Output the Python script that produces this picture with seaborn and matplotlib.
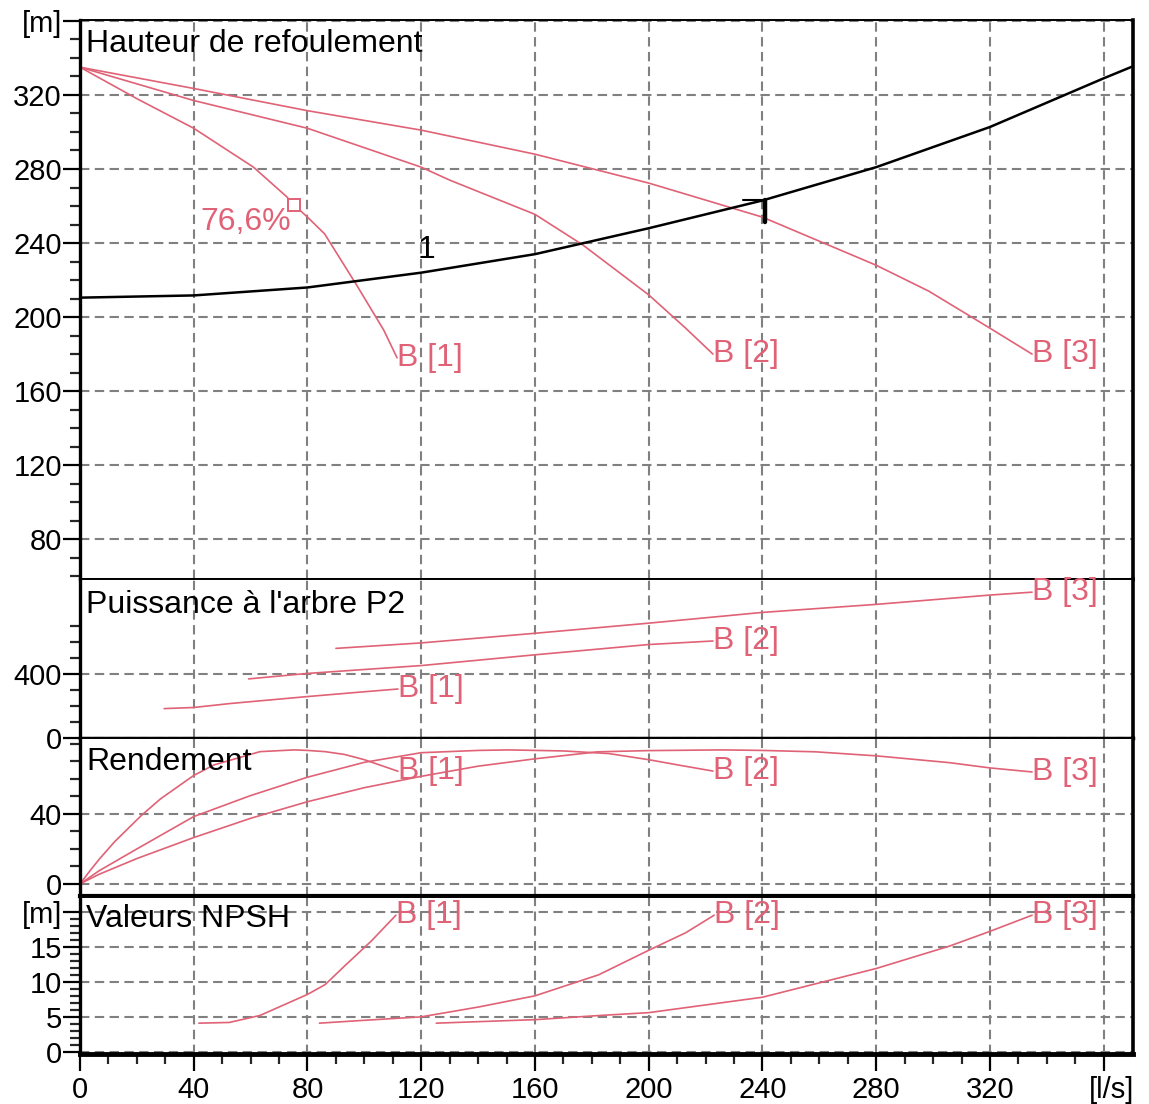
import matplotlib
matplotlib.use("Agg")
import matplotlib.pyplot as plt
import matplotlib.transforms as mtrans
from matplotlib.ticker import FixedLocator, FixedFormatter
import pandas as pd
import seaborn as sns

# ---- data (Q in l/s) ----
pumps = ["B [1]", "B [2]", "B [3]"]

# Hauteur de refoulement [m]
q_head_1 = [0, 20, 40, 61, 72.7, 75.3, 80, 86, 97.4, 106.8, 111.5]
head_1 = [335, 318, 302, 281, 265, 260.5, 254, 245, 217, 193, 178]
q_head_2 = [0, 40, 80, 120, 130, 160, 176.8, 200, 213, 222.6]
head_2 = [335, 317, 302, 281, 274, 255.5, 239, 212, 194, 180]
q_head_3 = [0, 40, 80, 120, 160, 200, 240, 280, 298.5, 320, 334.8]
head_3 = [335, 323.5, 311.5, 301, 288, 272.4, 254, 228, 214, 194, 180]

# courbe du reseau (1)
q_system = [0, 40, 80, 120, 160, 200, 240, 280, 320, 360, 370.3]
h_system = [210.5, 211.7, 216, 224, 234, 248, 263, 281, 302.7, 329, 335.5]

# Puissance a l'arbre P2 [kW]
q_pow_1 = [29.6, 40, 53, 80, 100, 111.8]
pow_1 = [183, 190, 215, 258, 288, 305]
q_pow_2 = [59.3, 80, 120, 160, 200, 222.6]
pow_2 = [368, 402, 451, 518, 582, 604]
q_pow_3 = [90, 120, 160, 200, 240, 280, 320, 334.8]
pow_3 = [558, 592, 652, 715, 782, 832, 890, 908]

# Rendement [%]
q_eff_1 = [0, 3.5, 6.7, 12.1, 21.5, 28.3, 40, 47.1, 63.3, 75.3, 80, 86.2, 93, 100, 111.8]
eff_1 = [0, 7.5, 14, 24, 39, 48.6, 62, 68, 75.6, 76.6, 76.3, 75.6, 74, 71, 64.4]
q_eff_2 = [0, 6.7, 20, 40, 60, 80, 100, 120, 140, 150.6, 170, 186, 200, 212, 222.6]
eff_2 = [0, 7.5, 20, 38.5, 50.5, 61, 69.5, 75, 76.3, 76.6, 76, 74.5, 71, 67.5, 64.5]
q_eff_3 = [0, 6.7, 20, 40, 60, 80, 100, 120, 140, 160, 182, 200, 226, 240, 258.7, 280, 305.8, 320, 334.8]
eff_3 = [0, 5.5, 14.5, 26.5, 37.5, 47, 55, 61.5, 67.3, 71.5, 75.5, 76.2, 76.6, 76.3, 75.5, 73.2, 69.3, 66.3, 64]

# Valeurs NPSH [m]
q_npsh_1 = [41.8, 52.5, 63.3, 80, 86.2, 92.9, 102.4, 111.1]
npsh_1 = [4.1, 4.2, 5.2, 8.2, 9.6, 12.2, 15.8, 19.5]
q_npsh_2 = [84.2, 99.7, 120, 140.1, 160, 182.4, 200, 213, 223]
npsh_2 = [4.1, 4.5, 5.0, 6.4, 8.0, 11, 14.5, 17, 19.5]
q_npsh_3 = [125.3, 160, 183, 200, 240, 280, 305.8, 320, 334.8]
npsh_3 = [4.1, 4.6, 5.2, 5.6, 7.8, 11.9, 15.1, 17.2, 19.5]

# point de fonctionnement / best efficiency point
op_q = 241
op_h_system = 263
op_h_pump = 251.5
bep_q = 75.3
bep_h = 260.5
bep_label = "76,6%"
system_label_q = 122
system_label_h = 236

x_ticks = [0, 40, 80, 120, 160, 200, 240, 280, 320, 360]
x_labels = ["0", "40", "80", "120", "160", "200", "240", "280", "320", "[l/s]"]


def long_table(parts, ycol):
    frames = []
    for name, (q, v) in zip(pumps, parts):
        frames.append(pd.DataFrame({"q": q, ycol: v, "pompe": name}))
    return pd.concat(frames, ignore_index=True)


df_head = long_table([(q_head_1, head_1), (q_head_2, head_2), (q_head_3, head_3)], "val")
df_pow = long_table([(q_pow_1, pow_1), (q_pow_2, pow_2), (q_pow_3, pow_3)], "val")
df_eff = long_table([(q_eff_1, eff_1), (q_eff_2, eff_2), (q_eff_3, eff_3)], "val")
df_npsh = long_table([(q_npsh_1, npsh_1), (q_npsh_2, npsh_2), (q_npsh_3, npsh_3)], "val")
df_sys = pd.DataFrame({"q": q_system, "val": h_system})

sns.set_style("ticks")
plt.rcParams["font.family"] = ["Liberation Sans", "DejaVu Sans"]
FS_TICK = 21
FS_TEXT = 23
pink = "#e06276"
grid_kw = dict(color="#808080", linewidth=1.5, linestyle=(0, (4.5, 2.6)))

W, H = 1149, 1104
fig = plt.figure(figsize=(W / 100, H / 100), dpi=100)
left, right = 80 / W, 1133 / W


def panel(top_px, bot_px):
    return fig.add_axes([left, 1 - bot_px / H, right - left, (bot_px - top_px) / H])


ax_h = panel(20, 579)
ax_p = panel(579, 738)
ax_e = panel(738, 896)
ax_n = panel(897, 1054)
axes = [ax_h, ax_p, ax_e, ax_n]

panels = [
    (ax_h, df_head, (58.5, 360.5), [80, 120, 160, 200, 240, 280, 320, 360],
     ["80", "120", "160", "200", "240", "280", "320", "[m]"], range(60, 360, 10),
     "Hauteur de refoulement", 24),
    (ax_p, df_pow, (0, 990), [0, 400], ["0", "400"], range(100, 800, 100),
     "Puissance à l'arbre P2", 26),
    (ax_e, df_eff, (-6.9, 83.4), [0, 40], ["0", "40"], range(10, 90, 10),
     "Rendement", 24),
    (ax_n, df_npsh, (-0.3, 22.1), [0, 5, 10, 15, 20], ["0", "5", "10", "15", "[m]"],
     range(1, 21), "Valeurs NPSH", 22),
]

for ax, df, ylim, yt, yl, yminor, title, title_off in panels:
    sns.lineplot(data=df, x="q", y="val", hue="pompe", palette=[pink] * 3,
                 estimator=None, sort=False, legend=False, linewidth=1.2, ax=ax)
    ax.set_xlim(0, 370.3)
    ax.set_ylim(*ylim)
    ax.set_xlabel("")
    ax.set_ylabel("")
    ax.xaxis.set_major_locator(FixedLocator(x_ticks))
    ax.xaxis.set_minor_locator(FixedLocator([v for v in range(0, 370, 10) if v % 40]))
    ax.yaxis.set_major_locator(FixedLocator(yt))
    ax.yaxis.set_major_formatter(FixedFormatter(yl))
    ax.yaxis.set_minor_locator(FixedLocator([v for v in yminor if v not in yt]))
    ax.set_axisbelow(True)
    ax.grid(True, which="major", **grid_kw)
    ax.tick_params(axis="y", which="major", left=True, right=False, direction="out",
                   length=12, width=1.6, pad=1, labelsize=FS_TICK, colors="black")
    ax.tick_params(axis="y", which="minor", left=True, right=False, direction="out",
                   length=7, width=1.6)
    for side, lw in [("left", 2.4), ("right", 2.6), ("top", 1.4), ("bottom", 2.0)]:
        ax.spines[side].set_visible(True)
        ax.spines[side].set_color("black")
        ax.spines[side].set_linewidth(lw)
    ax.annotate(title, xy=(0, 1), xycoords="axes fraction", xytext=(6, -title_off),
                textcoords="offset pixels", ha="left", va="center", fontsize=FS_TEXT,
                color="black")
    # end-of-curve labels
    for name, grp in df.groupby("pompe"):
        last = grp.iloc[-1]
        ax.text(last["q"], last["val"], name, ha="left", va="center",
                fontsize=FS_TEXT, color=pink)

for ax in axes[:-1]:
    ax.tick_params(axis="x", which="both", bottom=False, top=False, length=0,
                   labelbottom=False)

ax_n.xaxis.set_major_formatter(FixedFormatter(x_labels))
ax_n.tick_params(axis="x", which="major", bottom=True, top=False, direction="out",
                 length=12, width=1.6, pad=4, labelsize=FS_TICK, colors="black")
ax_n.tick_params(axis="x", which="minor", bottom=True, top=False, direction="out",
                 length=7, width=1.6)
ax_n.spines["bottom"].set_linewidth(3.5)
ax_e.spines["bottom"].set_linewidth(3.0)
ax_p.spines["bottom"].set_linewidth(2.5)

# system curve and its markings
sns.lineplot(data=df_sys, x="q", y="val", color="black", linewidth=1.8,
             estimator=None, sort=False, ax=ax_h)
ax_h.set_xlabel("")
ax_h.set_ylabel("")
ax_h.text(system_label_q, system_label_h, "1", ha="center", va="center",
          fontsize=FS_TEXT, color="black")
ax_h.plot([op_q, op_q], [op_h_pump, op_h_system], color="black", linewidth=3.2)
ax_h.plot([op_q - 8, op_q], [op_h_system, op_h_system], color="black", linewidth=1.5)

# best efficiency point
ax_h.plot([bep_q], [bep_h], marker="s", markersize=8, markerfacecolor="white",
          markeredgecolor=pink, markeredgewidth=1.4, linestyle="none")
ax_h.annotate(bep_label, xy=(bep_q, bep_h), xytext=(-3, -17), textcoords="offset pixels",
              ha="right", va="center", fontsize=FS_TEXT, color=pink)

# unit label on the x axis sits a little right of its tick
fig.canvas.draw()
unit_lbl = ax_n.xaxis.get_major_ticks()[-1].label1
unit_lbl.set_transform(unit_lbl.get_transform()
                       + mtrans.ScaledTranslation(0.08, 0, fig.dpi_scale_trans))

fig.savefig("out.png", dpi=100)
